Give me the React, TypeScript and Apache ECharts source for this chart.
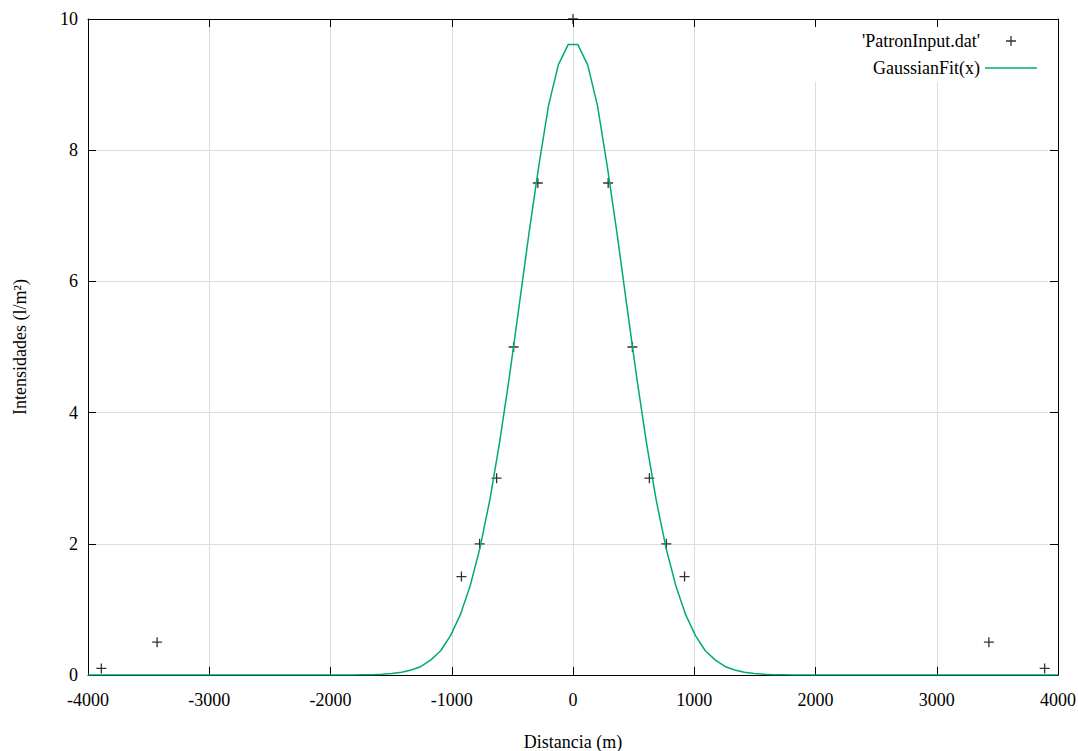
import React, { useEffect, useRef } from "react";
import * as echarts from "echarts";

// Measured data points ('PatronInput.dat')
const dataX = [-3890, -3430, -920, -770, -630, -490, -290, 0, 290, 490, 630, 770, 920, 3430, 3890];
const dataY = [0.1, 0.5, 1.5, 2, 3, 5, 7.5, 10, 7.5, 5, 3, 2, 1.5, 0.5, 0.1];

// Fitted curve samples (GaussianFit(x))
const fitX = [-4000, -1818, -1737, -1657, -1576, -1495, -1414, -1333, -1253, -1172, -1091, -1010, -929, -848, -768, -687, -606, -525, -444, -364, -283, -202, -121, -40,
  40, 121, 202, 283, 364, 444, 525, 606, 687, 768, 848, 929, 1010, 1091, 1172, 1253, 1333, 1414, 1495, 1576, 1657, 1737, 1818, 4000];
const fitY = [0, 0.001, 0.003, 0.005, 0.011, 0.022, 0.041, 0.076, 0.13, 0.23, 0.37, 0.6, 0.92, 1.36, 1.93, 2.66, 3.54, 4.54, 5.63, 6.72, 7.75, 8.68, 9.3, 9.61,
  9.61, 9.3, 8.68, 7.75, 6.72, 5.63, 4.54, 3.54, 2.66, 1.93, 1.36, 0.92, 0.6, 0.37, 0.23, 0.13, 0.076, 0.041, 0.022, 0.011, 0.005, 0.003, 0.001, 0];

const xMin = -4000;
const xMax = 4000;
const xStep = 1000;
const yMin = 0;
const yMax = 10;
const yStep = 2;

const seriesPoints = "'PatronInput.dat'";
const seriesFit = "GaussianFit(x)";
const xName = "Distancia (m)";
const yName = "Intensidades (l/m²)";

const FONT = "Liberation Serif";
const FS = 18;
const PLUS = "path://M0,5L10,5M5,0L5,10";
const LINE_ICON = "path://M0,0L52,0L52,1.5L0,1.5Z";
const FIT_COLOR = "#00a97d";

export default function App() {
  const ref = useRef<HTMLDivElement>(null);
  useEffect(() => {
    if (!ref.current) return;
    const chart = echarts.init(ref.current, null, { renderer: "svg" });
    const tick = { show: true, inside: true, length: 8, lineStyle: { color: "#000", width: 1 } };
    const axisLine = { show: true, onZero: false, lineStyle: { color: "#000", width: 1 } };
    const splitLine = { show: true, lineStyle: { color: "#dcdcdc", width: 1 } };
    const fmt = (v: number) => String(v);
    chart.setOption({
      animation: false,
      backgroundColor: "#fff",
      textStyle: { fontFamily: FONT, color: "#000" },
      grid: { left: 88, right: 20, top: 19, bottom: 76, outerBoundsMode: "none" },
      legend: {
        orient: "vertical",
        right: 29,
        top: 27,
        align: "right",
        itemWidth: 52,
        itemHeight: 10,
        itemGap: 9,
        padding: [5, 12, 5, 52],
        backgroundColor: "#fff",
        textStyle: { fontFamily: FONT, fontSize: FS, color: "#000" },
        data: [
          {
            name: seriesPoints,
            icon: PLUS,
            itemStyle: { color: "transparent", borderColor: "#000", borderWidth: 1.3 },
          },
          {
            name: seriesFit,
            icon: LINE_ICON,
            itemStyle: { color: FIT_COLOR, borderWidth: 0 },
          },
        ],
      },
      xAxis: [
        {
          type: "value",
          min: xMin,
          max: xMax,
          interval: xStep,
          position: "bottom",
          name: xName,
          nameLocation: "middle",
          nameGap: 58,
          nameTextStyle: { fontFamily: FONT, fontSize: FS, color: "#000" },
          axisLine,
          axisTick: tick,
          axisLabel: { fontFamily: FONT, fontSize: FS, color: "#000", margin: 16, formatter: fmt },
          splitLine,
        },
        {
          type: "value",
          min: xMin,
          max: xMax,
          interval: xStep,
          position: "top",
          axisLine,
          axisTick: tick,
          axisLabel: { show: false },
          splitLine: { show: false },
        },
      ],
      yAxis: [
        {
          type: "value",
          min: yMin,
          max: yMax,
          interval: yStep,
          position: "left",
          name: yName,
          nameLocation: "middle",
          nameGap: 59,
          nameTextStyle: { fontFamily: FONT, fontSize: FS, color: "#000" },
          axisLine,
          axisTick: tick,
          axisLabel: { fontFamily: FONT, fontSize: FS, color: "#000", margin: 10, formatter: fmt },
          splitLine,
        },
        {
          type: "value",
          min: yMin,
          max: yMax,
          interval: yStep,
          position: "right",
          axisLine,
          axisTick: tick,
          axisLabel: { show: false },
          splitLine: { show: false },
        },
      ],
      series: [
        {
          name: seriesPoints,
          type: "scatter",
          symbol: PLUS,
          symbolSize: 10,
          itemStyle: { color: "transparent", borderColor: "#000", borderWidth: 1.3 },
          data: dataX.map((x, i) => [x, dataY[i]]),
          z: 3,
        },
        {
          name: seriesFit,
          type: "line",
          symbol: "none",
          showSymbol: false,
          lineStyle: { color: FIT_COLOR, width: 1.5 },
          itemStyle: { color: FIT_COLOR },
          data: fitX.map((x, i) => [x, fitY[i]]),
          z: 4,
        },
      ],
    });
    return () => chart.dispose();
  }, []);
  return (
    <div
      ref={ref}
      style={{ position: "absolute", left: 0, top: 0, width: 1078, height: 751 }}
    />
  );
}
